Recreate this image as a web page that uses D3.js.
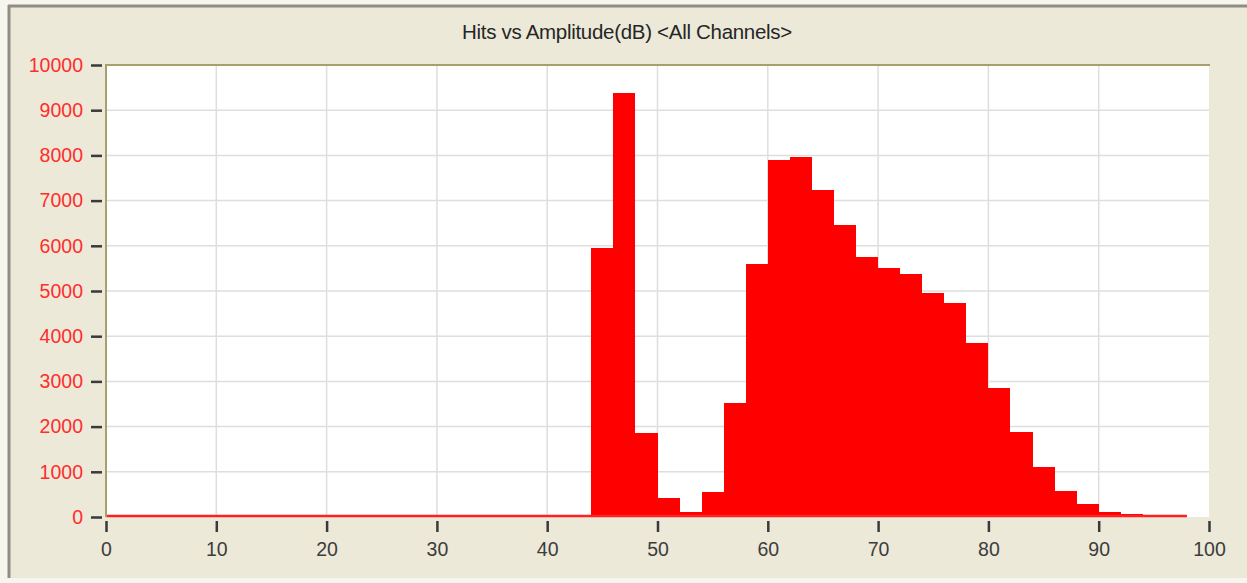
<!DOCTYPE html>
<html>
<head>
    <title>Hits vs Amplitude</title>
    <script src="https://d3js.org/d3.v7.min.js"></script>
    <style>
        body { margin: 0; background: #f6f5ee; }
        svg { display: block; }
    </style>
</head>
<body>
    <div id="vis"></div>
    <script>
        // amplitude bins (dB, start of each 2 dB bin)
        var binStarts = [0, 2, 4, 6, 8, 10, 12, 14, 16, 18, 20, 22, 24, 26, 28, 30, 32, 34, 36, 38,
                         40, 42, 44, 46, 48, 50, 52, 54, 56, 58, 60, 62, 64, 66, 68, 70, 72, 74, 76, 78,
                         80, 82, 84, 86, 88, 90, 92, 94, 96];
        var hits = [0, 0, 0, 0, 0, 0, 0, 0, 0, 0, 0, 0, 0, 0, 0, 0, 0, 0, 0, 0,
                    0, 0, 5950, 9380, 1850, 410, 120, 550, 2520, 5590, 7900, 7970, 7230, 6460, 5760, 5500, 5380, 4950, 4730, 3840,
                    2850, 1890, 1110, 580, 290, 120, 70, 25, 15];
        var binWidth = 2;
        var xTicks = [0, 10, 20, 30, 40, 50, 60, 70, 80, 90, 100];
        var yTicks = [0, 1000, 2000, 3000, 4000, 5000, 6000, 7000, 8000, 9000, 10000];
        var title = "Hits vs Amplitude(dB) <All Channels>";

        var W = 1247, H = 583;
        var plot = {left: 106, top: 65, right: 1209, bottom: 517};

        var svg = d3.select("#vis").append("svg")
            .attr("width", W)
            .attr("height", H);

        // window frame
        svg.append("rect").attr("x", 0).attr("y", 0).attr("width", W).attr("height", H).attr("fill", "#f6f5ee");
        svg.append("rect").attr("x", 8).attr("y", 5).attr("width", W - 8).attr("height", 573).attr("fill", "#ece9d8");
        svg.append("line").attr("x1", 8).attr("x2", W).attr("y1", 6).attr("y2", 6)
            .attr("stroke", "#8f8d84").attr("stroke-width", 3);
        svg.append("line").attr("x1", 9).attr("x2", 9).attr("y1", 5).attr("y2", 578)
            .attr("stroke", "#8f8d84").attr("stroke-width", 3);

        svg.append("text")
            .attr("x", 627)
            .attr("y", 39)
            .attr("text-anchor", "middle")
            .attr("font-family", "Liberation Sans, Arial, sans-serif")
            .attr("font-size", 20.5)
            .attr("letter-spacing", -0.3)
            .attr("fill", "#262626")
            .text(title);

        var xScale = d3.scaleLinear().domain([0, 100]).range([plot.left, plot.right]);
        var yScale = d3.scaleLinear().domain([0, 10000]).range([plot.bottom, plot.top]);

        // plot background
        svg.append("rect")
            .attr("x", plot.left).attr("y", plot.top)
            .attr("width", plot.right - plot.left).attr("height", plot.bottom - plot.top)
            .attr("fill", "#ffffff");

        // grid
        svg.append("g").selectAll("line").data(xTicks.slice(1, -1)).enter().append("line")
            .attr("x1", function(d) { return xScale(d); })
            .attr("x2", function(d) { return xScale(d); })
            .attr("y1", plot.top).attr("y2", plot.bottom)
            .attr("stroke", "#dedede").attr("stroke-width", 1.5);
        svg.append("g").selectAll("line").data(yTicks.slice(1, -1)).enter().append("line")
            .attr("x1", plot.left).attr("x2", plot.right)
            .attr("y1", function(d) { return yScale(d); })
            .attr("y2", function(d) { return yScale(d); })
            .attr("stroke", "#dedede").attr("stroke-width", 1.5);

        // bars
        svg.append("g").selectAll("rect")
            .data(binStarts)
            .enter()
            .append("rect")
                .attr("x", function(d) { return xScale(d); })
                .attr("y", function(d, i) { return yScale(hits[i]); })
                .attr("width", function(d) { return xScale(d + binWidth) - xScale(d); })
                .attr("height", function(d, i) { return yScale(0) - yScale(hits[i]); })
                .attr("fill", "#ff0000")
                .attr("shape-rendering", "crispEdges");

        // zero line along the bins
        svg.append("line")
            .attr("x1", xScale(binStarts[0]))
            .attr("x2", xScale(binStarts[binStarts.length - 1] + binWidth))
            .attr("y1", yScale(0) - 1).attr("y2", yScale(0) - 1)
            .attr("stroke", "#ff2020").attr("stroke-width", 2.5);

        // plot border (top + left)
        svg.append("path")
            .attr("d", "M" + plot.left + "," + plot.bottom + "V" + plot.top + "H" + (plot.right + 1))
            .attr("fill", "none").attr("stroke", "#a8a06c").attr("stroke-width", 2);

        // Y axis
        var yAxis = svg.append("g")
            .attr("transform", "translate(102,0)")
            .call(d3.axisLeft(yScale).tickValues(yTicks).tickSize(11).tickPadding(8).tickFormat(d3.format("d")));
        yAxis.select(".domain").remove();
        yAxis.selectAll("line").attr("stroke", "#3a3a3a").attr("stroke-width", 2.5);
        yAxis.selectAll("text")
            .attr("fill", "#ff2d2d")
            .attr("font-family", "Liberation Sans, Arial, sans-serif")
            .attr("font-size", 19.5);

        // X axis
        var xAxis = svg.append("g")
            .attr("transform", "translate(0,521)")
            .call(d3.axisBottom(xScale).tickValues(xTicks).tickSize(11).tickPadding(10));
        xAxis.select(".domain").remove();
        xAxis.selectAll("line").attr("stroke", "#3a3a3a").attr("stroke-width", 2.5);
        xAxis.selectAll("text")
            .attr("fill", "#3c3c3c")
            .attr("font-family", "Liberation Sans, Arial, sans-serif")
            .attr("font-size", 19.5);
    </script>
</body>
</html>
